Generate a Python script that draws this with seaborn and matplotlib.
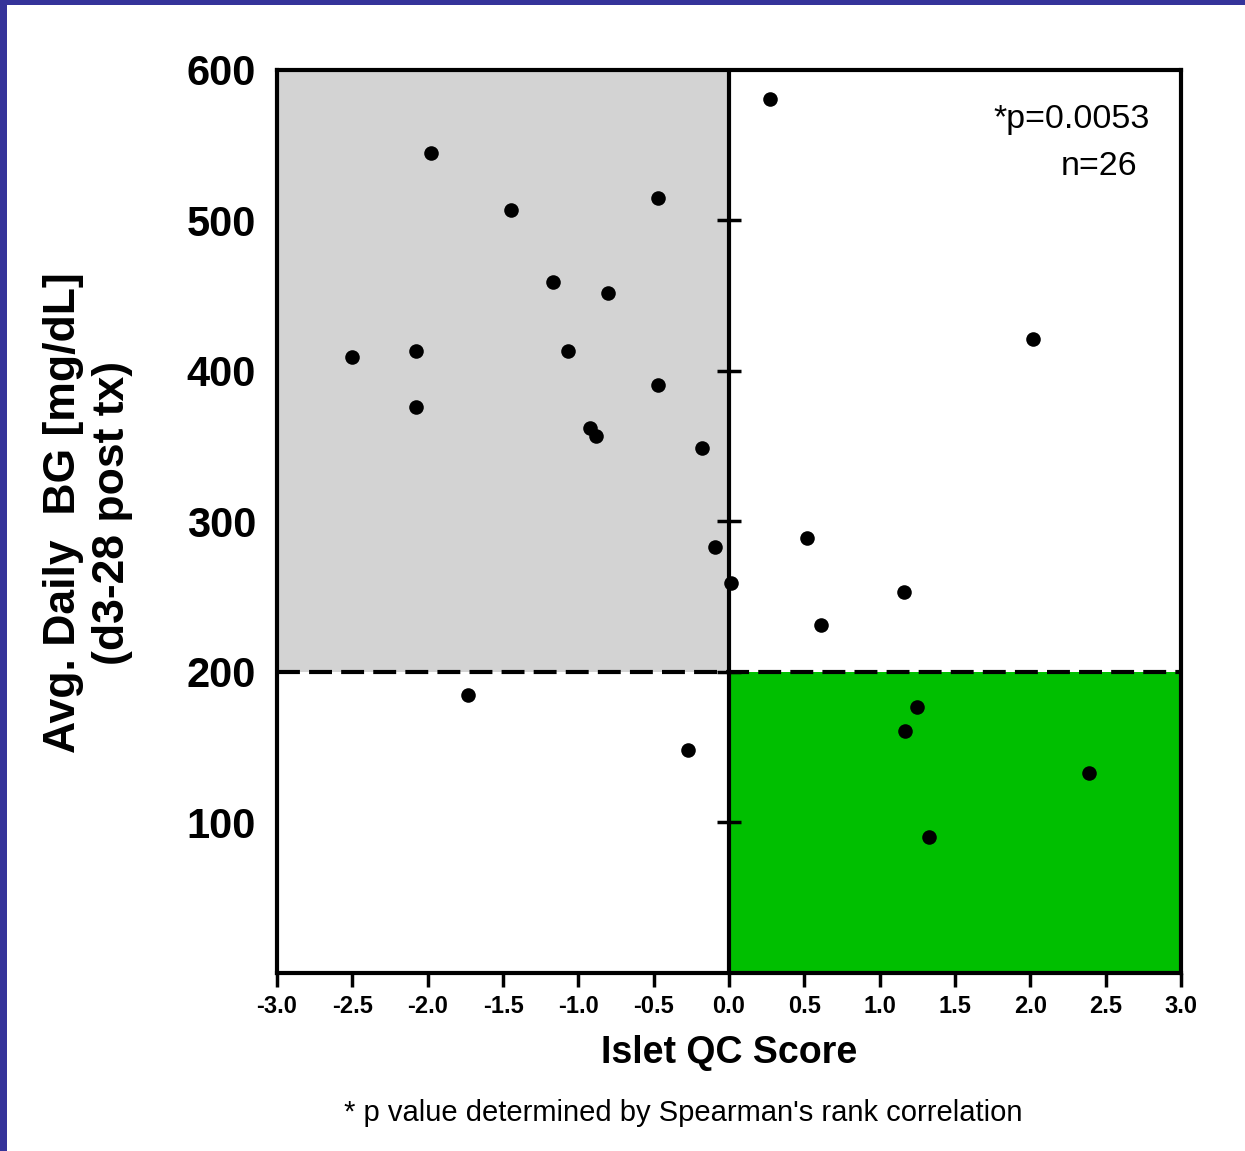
import matplotlib
matplotlib.use("Agg")
import matplotlib.pyplot as plt
import seaborn as sns
import pandas as pd
from matplotlib.patches import Rectangle

# ---- data ----
qc_score = [0.27, -1.98, -1.45, -0.47, -1.17, -0.80, -2.50, -2.08, -1.07, -2.08,
            -0.47, -0.92, -0.88, -0.18, -0.09, 0.01, 0.52, 1.16, 0.61, 2.02,
            -1.73, -0.27, 1.25, 1.17, 2.39, 1.33]
avg_bg = [581, 545, 507, 515, 459, 452, 409, 413, 413, 376,
          391, 362, 357, 349, 283, 259, 289, 253, 231, 421,
          185, 148, 177, 161, 133, 90]
x_ticks = [-3.0, -2.5, -2.0, -1.5, -1.0, -0.5, 0.0, 0.5, 1.0, 1.5, 2.0, 2.5, 3.0]
y_ticks = [100, 200, 300, 400, 500, 600]
bg_threshold = 200
annot_p = "*p=0.0053"
annot_n = "n=26"
footnote = "* p value determined by Spearman's rank correlation"

df = pd.DataFrame({"qc": qc_score, "bg": avg_bg})

sns.set_style("white")
plt.rcParams["font.family"] = ["Liberation Sans", "DejaVu Sans"]
plt.rcParams["text.color"] = "black"
plt.rcParams["axes.labelcolor"] = "black"
plt.rcParams["xtick.color"] = "black"
plt.rcParams["ytick.color"] = "black"

fig = plt.figure(figsize=(12.45, 11.51), dpi=100)
ax = fig.add_axes([0.2225, 0.1547, 0.7261, 0.7845])

# shaded quadrants
ax.add_patch(Rectangle((-3, bg_threshold), 3, 600 - bg_threshold, facecolor="#d3d3d3",
                       edgecolor="none", zorder=0))
ax.add_patch(Rectangle((0, 0), 3, bg_threshold, facecolor="#00bf00",
                       edgecolor="none", zorder=0))

# threshold dashed line and x=0 line
ax.axhline(bg_threshold, color="black", lw=3, linestyle=(0, (5.5, 2.2)), zorder=2)
ax.axvline(0, color="black", lw=3, zorder=2)
# tick marks crossing the x=0 axis
for yv in y_ticks[:-1]:
    ax.plot([-0.08, 0.08], [yv, yv], color="black", lw=2.5, zorder=2,
            solid_capstyle="butt")

sns.scatterplot(data=df, x="qc", y="bg", ax=ax, color="black", s=110,
                edgecolor="black", linewidth=0, zorder=3, legend=False)

ax.set_xlim(-3, 3)
ax.set_ylim(0, 600)
ax.set_xticks(x_ticks)
ax.set_xticklabels([f"{v:.1f}" for v in x_ticks], fontsize=17, fontweight="bold")
ax.set_yticks(y_ticks)
ax.set_yticklabels([str(v) for v in y_ticks], fontsize=30, fontweight="bold")
ax.tick_params(axis="x", direction="out", length=10, width=2.5, pad=6, bottom=True)
ax.tick_params(axis="y", length=0, pad=15)
for sp in ax.spines.values():
    sp.set_linewidth(3)
    sp.set_color("black")
    sp.set_zorder(4)

ax.set_xlabel("Islet QC Score", fontsize=27, fontweight="bold", labelpad=12)
ax.set_ylabel("")
fig.text(88 / 1245, 1 - 513 / 1151, "Avg. Daily  BG [mg/dL]\n(d3-28 post tx)",
         rotation=90, ha="center", va="center", multialignment="center",
         fontsize=32, fontweight="bold", linespacing=1.22)

ax.text(0.965, 0.945, annot_p, transform=ax.transAxes, ha="right", va="center",
        fontsize=24.5)
ax.text(0.952, 0.893, annot_n, transform=ax.transAxes, ha="right", va="center",
        fontsize=24.5)

fig.text(683 / 1245, 1 - 1113 / 1151, footnote, ha="center", va="center", fontsize=21)

# blue frame on top and left edges
fig.patches.append(Rectangle((0, 1 - 5 / 1151), 1, 5 / 1151, transform=fig.transFigure,
                             facecolor="#35339a", edgecolor="none", zorder=10))
fig.patches.append(Rectangle((0, 0), 7 / 1245, 1, transform=fig.transFigure,
                             facecolor="#35339a", edgecolor="none", zorder=10))

fig.savefig("out.png", dpi=100)
